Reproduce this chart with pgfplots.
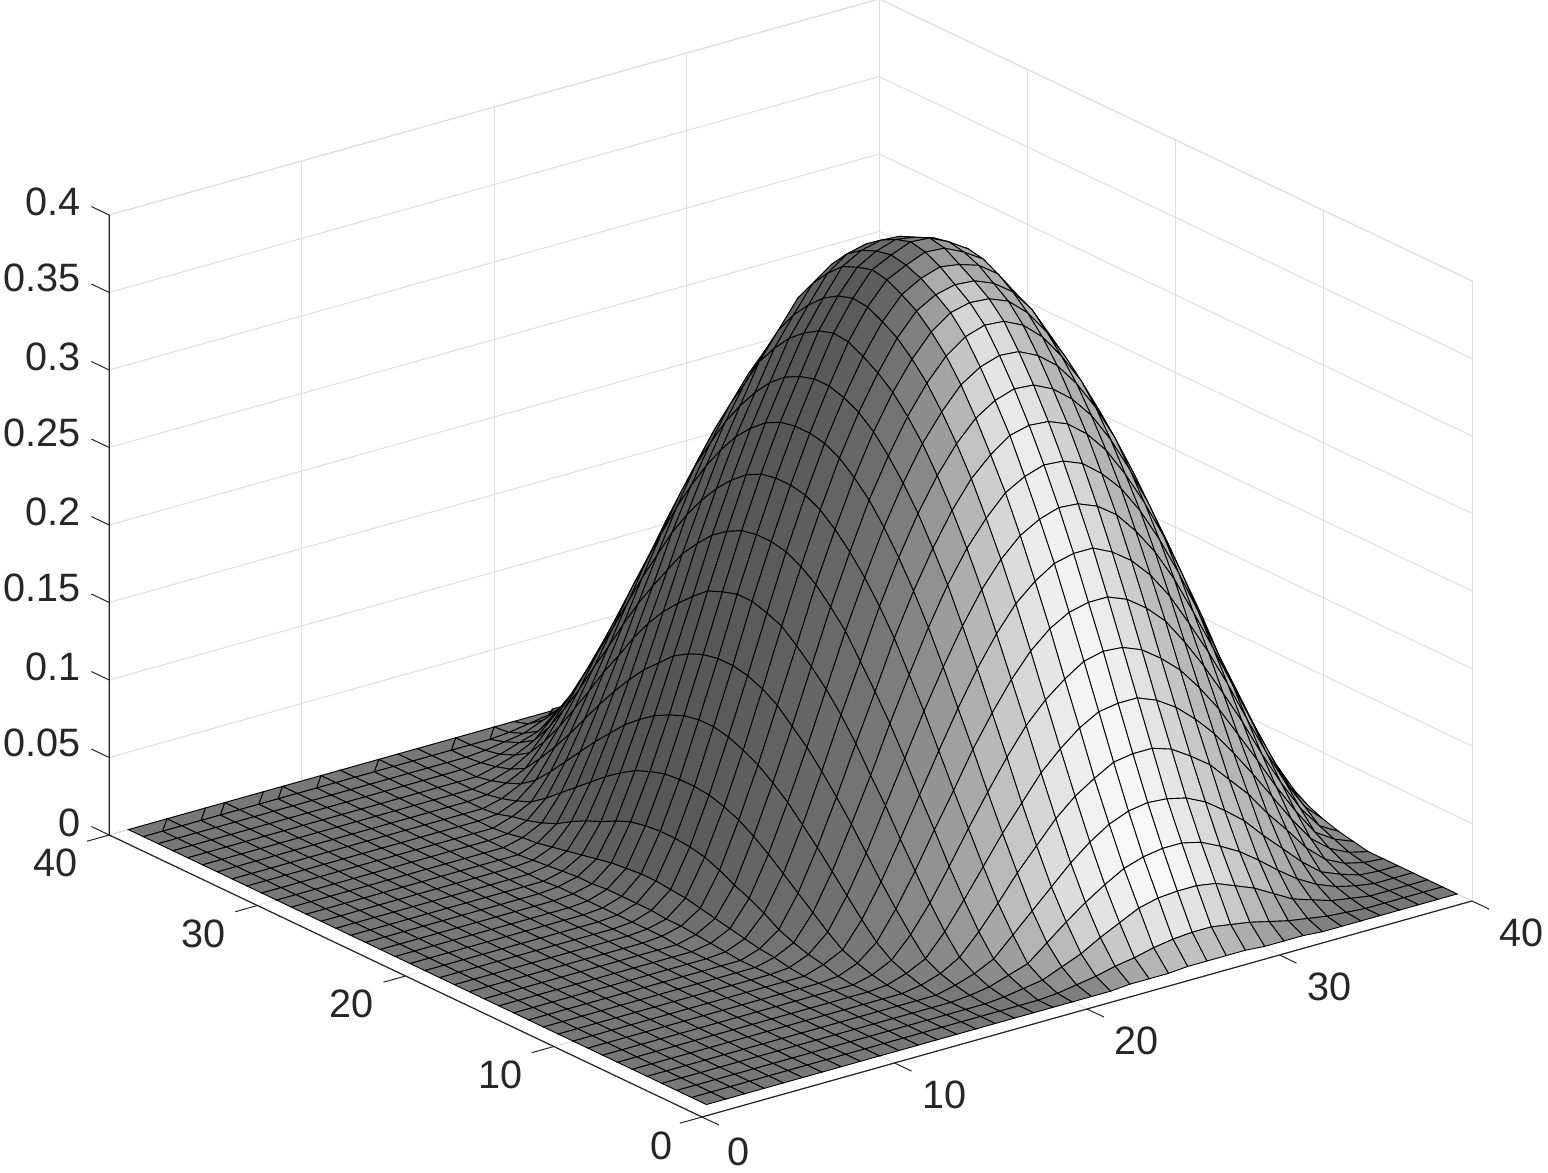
\documentclass[border=0pt]{standalone}
\usepackage{fontspec}
\setmainfont{Liberation Sans}
\usepackage{pgfplots}
\pgfplotsset{compat=1.18}
\definecolor{tc}{HTML}{262626}
\definecolor{gc}{HTML}{DEDEDE}
\begin{document}
\begin{tikzpicture}
\useasboundingbox (0,0) rectangle (774pt,586.5pt);
\begin{axis}[
  anchor=origin, at={(351pt,28pt)},
  x={(9.625pt,2.7pt)}, y={(-7.41pt,3.525pt)}, z={(0pt,775pt)},
  xmin=0,xmax=40,ymin=0,ymax=40,zmin=0,zmax=0.4,
  clip=false,
  3d box=background,
  axis line style={gc,line width=0.5pt},
  grid=major, major grid style={gc,line width=0.5pt},
  xtick={0,10,20,30,40}, ytick={0,10,20,30,40},
  ztick={0,0.05,0.1,0.15,0.2,0.25,0.3,0.35,0.4},
  xticklabels={\raisebox{-3.5pt}[14pt][0pt]{\hspace*{-10pt}0},10,20,30,40},
  yticklabels={\raisebox{-3.5pt}[14pt][0pt]{0\hspace*{-7.7pt}},10,20,30,40},
  zticklabels={0,0.05,0.1,0.15,0.2,0.25,0.3,0.35,0.4},
  tick align=outside, major tick length=11pt,
  tick style={draw=none},
  tick label style={font=\fontsize{19.8}{22}\selectfont,text=tc},
  xticklabel style={xshift=7pt,yshift=1pt},
  yticklabel style={xshift=-6.5pt,yshift=1.7pt},
  zticklabel style={xshift=-1pt,yshift=0.5pt},
  /pgf/number format/assume math mode=true,
  colormap={bw}{gray(0cm)=(0); gray(1cm)=(1)},
  point meta min=0, point meta max=255,
  unbounded coords=jump,
  declare function={
    rr(\p,\q)=sqrt((\p*1.31)^2+\q*\q);
    ww(\r)=\r/sqrt(\r*\r+4)*(\r<17.5?1:max(0,(21-\r)/3.5));
    tw(\h)=(\h>84?\h-264:\h+96);
    cc(\h,\r)=135+50*cos(\h+20)+(85+\r)*exp(0-tw(\h)*tw(\h)/(tw(\h)<0?625:350));
    vm(\p,\q)=119+ww(rr(\p,\q))*(cc(atan2(\q,\p),rr(\p,\q))-119);
  },
]
\addplot3[surf, shader=faceted, faceted color=black, line width=0.45pt,
  z buffer=none, mesh/rows=40, mesh/cols=40, mesh/ordering=y varies,
  point meta={vm(12.7-int(\coordindex/40),19.5-mod(\coordindex,40))}]
 table[header=false, row sep=crcr, x expr={40-int(\coordindex/40)}, y expr={40-mod(\coordindex,40)}, z expr={\thisrowno{0}/1000}] {
0\\0\\0\\0\\0\\0\\0\\2\\4\\7\\11\\17\\24\\31\\38\\44\\49\\54\\56\\58\\58\\56\\54\\49\\44\\38\\31\\24\\17\\11\\7\\4\\2\\0\\0\\0\\0\\0\\0\\0\\
0\\0\\0\\0\\0\\1\\3\\7\\11\\19\\27\\38\\48\\58\\66\\74\\81\\85\\89\\91\\91\\89\\85\\81\\74\\66\\58\\48\\38\\27\\19\\11\\7\\3\\1\\0\\0\\0\\0\\0\\
0\\0\\0\\0\\1\\4\\9\\15\\26\\38\\51\\64\\76\\87\\97\\107\\115\\120\\124\\126\\126\\124\\120\\115\\107\\97\\87\\76\\64\\51\\38\\26\\15\\9\\4\\1\\0\\0\\0\\0\\
0\\0\\0\\2\\5\\10\\19\\32\\46\\61\\77\\92\\106\\119\\132\\142\\150\\157\\162\\164\\164\\162\\157\\150\\142\\132\\119\\106\\92\\77\\61\\46\\32\\19\\10\\5\\2\\0\\0\\0\\
0\\0\\2\\5\\10\\21\\35\\51\\68\\86\\104\\120\\138\\152\\164\\177\\186\\193\\198\\200\\200\\198\\193\\186\\177\\164\\152\\138\\120\\104\\86\\68\\51\\35\\21\\10\\5\\2\\0\\0\\
0\\1\\4\\10\\20\\36\\53\\72\\92\\112\\131\\150\\168\\184\\198\\210\\220\\227\\232\\235\\235\\232\\227\\220\\210\\198\\184\\168\\150\\131\\112\\92\\72\\53\\36\\20\\10\\4\\1\\0\\
0\\2\\8\\17\\32\\50\\71\\92\\114\\136\\157\\178\\197\\213\\228\\241\\251\\258\\263\\266\\266\\263\\258\\251\\241\\228\\213\\197\\178\\157\\136\\114\\92\\71\\50\\32\\17\\8\\2\\0\\
0\\4\\12\\26\\44\\66\\88\\112\\135\\158\\182\\203\\222\\239\\255\\267\\278\\285\\291\\294\\294\\291\\285\\278\\267\\255\\239\\222\\203\\182\\158\\135\\112\\88\\66\\44\\26\\12\\4\\0\\
1\\6\\19\\36\\57\\79\\104\\129\\154\\179\\203\\225\\244\\262\\281\\294\\304\\313\\319\\322\\321\\316\\310\\301\\291\\278\\262\\244\\225\\203\\179\\154\\129\\104\\79\\57\\36\\19\\6\\1\\
1\\9\\26\\45\\67\\92\\117\\144\\171\\196\\220\\243\\263\\281\\300\\313\\324\\334\\339\\342\\341\\336\\331\\321\\310\\297\\281\\263\\243\\220\\196\\171\\144\\117\\92\\67\\45\\26\\9\\1\\
1\\12\\31\\52\\76\\101\\128\\155\\183\\209\\234\\256\\277\\295\\318\\332\\343\\352\\357\\360\\358\\353\\346\\337\\326\\312\\295\\277\\256\\234\\209\\183\\155\\128\\101\\76\\52\\31\\12\\1\\
2\\14\\36\\58\\82\\109\\136\\164\\192\\218\\243\\266\\287\\305\\328\\343\\354\\361\\366\\368\\366\\362\\355\\348\\337\\322\\305\\287\\266\\243\\218\\192\\164\\136\\109\\82\\58\\36\\14\\2\\
2\\16\\38\\61\\85\\113\\141\\169\\197\\224\\248\\271\\292\\311\\334\\349\\359\\366\\370\\374\\372\\366\\360\\353\\343\\328\\311\\292\\271\\248\\224\\197\\169\\141\\113\\85\\61\\38\\16\\2\\
2\\16\\38\\61\\86\\113\\141\\170\\197\\224\\249\\272\\293\\312\\335\\350\\360\\367\\372\\375\\373\\368\\361\\354\\344\\329\\312\\293\\272\\249\\224\\197\\170\\141\\113\\86\\61\\38\\16\\2\\
2\\15\\37\\59\\84\\111\\139\\167\\194\\221\\245\\268\\290\\308\\331\\346\\357\\364\\368\\370\\368\\364\\358\\351\\340\\325\\308\\290\\268\\245\\221\\194\\167\\139\\111\\84\\59\\37\\15\\2\\
1\\13\\34\\55\\79\\104\\132\\159\\187\\213\\238\\261\\281\\300\\323\\337\\348\\357\\361\\364\\362\\357\\351\\342\\331\\317\\300\\281\\261\\238\\213\\187\\159\\132\\104\\79\\55\\34\\13\\1\\
1\\10\\28\\48\\71\\96\\122\\149\\176\\202\\226\\248\\269\\287\\306\\320\\331\\340\\346\\349\\348\\343\\337\\328\\317\\303\\287\\269\\248\\226\\202\\176\\149\\122\\96\\71\\48\\28\\10\\1\\
1\\8\\22\\40\\61\\85\\110\\136\\161\\186\\210\\232\\252\\270\\289\\302\\313\\321\\327\\330\\329\\324\\318\\310\\299\\286\\270\\252\\232\\210\\186\\161\\136\\110\\85\\61\\40\\22\\8\\1\\
0\\5\\15\\31\\49\\71\\94\\119\\143\\167\\190\\212\\231\\249\\264\\277\\288\\296\\301\\304\\304\\301\\296\\288\\277\\264\\249\\231\\212\\190\\167\\143\\119\\94\\71\\49\\31\\15\\5\\0\\
0\\3\\10\\21\\37\\57\\78\\100\\123\\145\\167\\188\\207\\224\\239\\252\\262\\270\\275\\277\\277\\275\\270\\262\\252\\239\\224\\207\\188\\167\\145\\123\\100\\78\\57\\37\\21\\10\\3\\0\\
0\\1\\5\\11\\25\\41\\60\\80\\100\\121\\142\\161\\180\\196\\210\\222\\232\\240\\245\\247\\247\\245\\240\\232\\222\\210\\196\\180\\161\\142\\121\\100\\80\\60\\41\\25\\11\\5\\1\\0\\
0\\0\\3\\7\\13\\26\\42\\59\\78\\96\\115\\133\\149\\164\\179\\190\\200\\207\\212\\214\\214\\212\\207\\200\\190\\179\\164\\149\\133\\115\\96\\78\\59\\42\\26\\13\\7\\3\\0\\0\\
0\\0\\1\\3\\7\\13\\25\\39\\55\\71\\88\\103\\119\\133\\145\\155\\164\\172\\176\\179\\179\\176\\172\\164\\155\\145\\133\\119\\103\\88\\71\\55\\39\\25\\13\\7\\3\\1\\0\\0\\
0\\0\\0\\1\\3\\6\\11\\22\\34\\47\\61\\75\\88\\100\\111\\120\\129\\135\\139\\141\\141\\139\\135\\129\\120\\111\\100\\88\\75\\61\\47\\34\\22\\11\\6\\3\\1\\0\\0\\0\\
0\\0\\0\\0\\0\\2\\5\\9\\16\\26\\37\\48\\59\\69\\79\\87\\94\\99\\103\\105\\105\\103\\99\\94\\87\\79\\69\\59\\48\\37\\26\\16\\9\\5\\2\\0\\0\\0\\0\\0\\
0\\0\\0\\0\\0\\0\\1\\3\\6\\10\\17\\25\\33\\41\\49\\56\\62\\66\\69\\70\\70\\69\\66\\62\\56\\49\\41\\33\\25\\17\\10\\6\\3\\1\\0\\0\\0\\0\\0\\0\\
0\\0\\0\\0\\0\\0\\0\\0\\1\\4\\6\\9\\13\\19\\24\\28\\33\\37\\39\\40\\40\\39\\37\\33\\28\\24\\19\\13\\9\\6\\4\\1\\0\\0\\0\\0\\0\\0\\0\\0\\
0\\0\\0\\0\\0\\0\\0\\0\\0\\0\\1\\3\\4\\6\\8\\10\\12\\14\\15\\16\\16\\15\\14\\12\\10\\8\\6\\4\\3\\1\\0\\0\\0\\0\\0\\0\\0\\0\\0\\0\\
0\\0\\0\\0\\0\\0\\0\\0\\0\\0\\0\\0\\0\\1\\2\\3\\4\\4\\5\\5\\5\\5\\4\\4\\3\\2\\1\\0\\0\\0\\0\\0\\0\\0\\0\\0\\0\\0\\0\\0\\
0\\0\\0\\0\\0\\0\\0\\0\\0\\0\\0\\0\\0\\0\\0\\0\\1\\1\\1\\1\\1\\1\\1\\1\\0\\0\\0\\0\\0\\0\\0\\0\\0\\0\\0\\0\\0\\0\\0\\0\\
0\\0\\0\\0\\0\\0\\0\\0\\0\\0\\0\\0\\0\\0\\0\\0\\0\\0\\0\\0\\0\\0\\0\\0\\0\\0\\0\\0\\0\\0\\0\\0\\0\\0\\0\\0\\0\\0\\0\\0\\
0\\0\\0\\0\\0\\0\\0\\0\\0\\0\\0\\0\\0\\0\\0\\0\\0\\0\\0\\0\\0\\0\\0\\0\\0\\0\\0\\0\\0\\0\\0\\0\\0\\0\\0\\0\\0\\0\\0\\0\\
0\\0\\0\\0\\0\\0\\0\\0\\0\\0\\0\\0\\0\\0\\0\\0\\0\\0\\0\\0\\0\\0\\0\\0\\0\\0\\0\\0\\0\\0\\0\\0\\0\\0\\0\\0\\0\\0\\0\\0\\
0\\0\\0\\0\\0\\0\\0\\0\\0\\0\\0\\0\\0\\0\\0\\0\\0\\0\\0\\0\\0\\0\\0\\0\\0\\0\\0\\0\\0\\0\\0\\0\\0\\0\\0\\0\\0\\0\\0\\0\\
0\\0\\0\\0\\0\\0\\0\\0\\0\\0\\0\\0\\0\\0\\0\\0\\0\\0\\0\\0\\0\\0\\0\\0\\0\\0\\0\\0\\0\\0\\0\\0\\0\\0\\0\\0\\0\\0\\0\\0\\
0\\0\\0\\0\\0\\0\\0\\0\\0\\0\\0\\0\\0\\0\\0\\0\\0\\0\\0\\0\\0\\0\\0\\0\\0\\0\\0\\0\\0\\0\\0\\0\\0\\0\\0\\0\\0\\0\\0\\0\\
0\\0\\0\\0\\0\\0\\0\\0\\0\\0\\0\\0\\0\\0\\0\\0\\0\\0\\0\\0\\0\\0\\0\\0\\0\\0\\0\\0\\0\\0\\0\\0\\0\\0\\0\\0\\0\\0\\0\\0\\
0\\0\\0\\0\\0\\0\\0\\0\\0\\0\\0\\0\\0\\0\\0\\0\\0\\0\\0\\0\\0\\0\\0\\0\\0\\0\\0\\0\\0\\0\\0\\0\\0\\0\\0\\0\\0\\0\\0\\0\\
0\\0\\0\\0\\0\\0\\0\\0\\0\\0\\0\\0\\0\\0\\0\\0\\0\\0\\0\\0\\0\\0\\0\\0\\0\\0\\0\\0\\0\\0\\0\\0\\0\\0\\0\\0\\0\\0\\0\\0\\
0\\0\\0\\0\\0\\0\\0\\0\\0\\0\\0\\0\\0\\0\\0\\0\\0\\0\\0\\0\\0\\0\\0\\0\\0\\0\\0\\0\\0\\0\\0\\0\\0\\0\\0\\0\\0\\0\\0\\0\\
};
\addplot3[tc, line width=0.6pt, forget plot] coordinates {(40,0,0) (0,0,0) (0,40,0) (0,40,0.4)};
\addplot3[tc, line width=0.5pt, forget plot] coordinates {
 (0,0,0) (0,-1.15,0) (0,-1.15,nan) (10,0,0) (10,-1.15,0) (10,-1.15,nan) (20,0,0) (20,-1.15,0) (20,-1.15,nan)
 (30,0,0) (30,-1.15,0) (30,-1.15,nan) (40,0,0) (40,-1.15,0)};
\addplot3[tc, line width=0.5pt, forget plot] coordinates {
 (0,0,0) (-1.15,0,0) (-1.15,0,nan) (0,10,0) (-1.15,10,0) (-1.15,10,nan) (0,20,0) (-1.15,20,0) (-1.15,20,nan)
 (0,30,0) (-1.15,30,0) (-1.15,30,nan) (0,40,0) (-1.15,40,0)};
\addplot3[tc, line width=0.5pt, forget plot] coordinates {
 (0,40,0) (0,41.2,0) (0,41.2,nan) (0,40,0.05) (0,41.2,0.05) (0,41.2,nan) (0,40,0.1) (0,41.2,0.1) (0,41.2,nan)
 (0,40,0.15) (0,41.2,0.15) (0,41.2,nan) (0,40,0.2) (0,41.2,0.2) (0,41.2,nan) (0,40,0.25) (0,41.2,0.25) (0,41.2,nan)
 (0,40,0.3) (0,41.2,0.3) (0,41.2,nan) (0,40,0.35) (0,41.2,0.35) (0,41.2,nan) (0,40,0.4) (0,41.2,0.4)};
\end{axis}
\end{tikzpicture}
\end{document}
